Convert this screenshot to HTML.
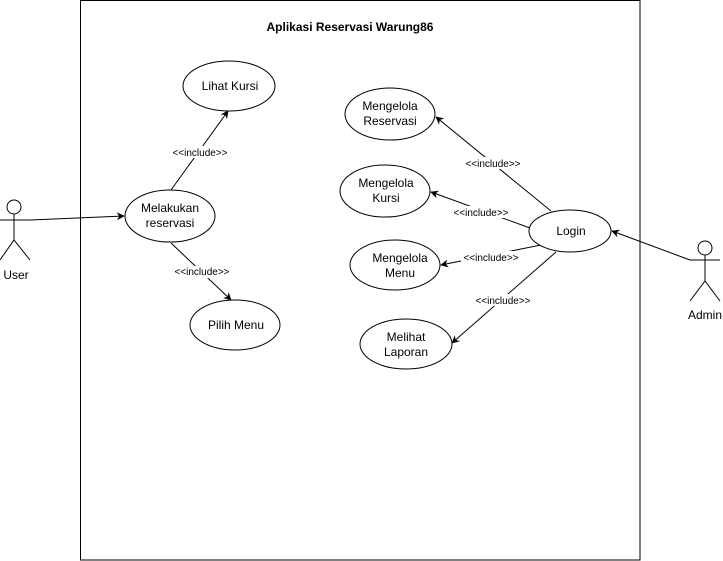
<!DOCTYPE html>
<html><head><meta charset="utf-8"><style>html,body{margin:0;padding:0;background:#fff}svg{display:block}</style></head>
<body>
<svg width="723" height="561" viewBox="0 0 723 561" xmlns="http://www.w3.org/2000/svg" style="font-family:'Liberation Sans', Arial, sans-serif">
<defs><marker id="a" viewBox="0 0 10 10" refX="9" refY="5" markerWidth="8" markerHeight="8" orient="auto" markerUnits="userSpaceOnUse"><path d="M0,0 L10,5 L0,10 L3,5 z" fill="#000"/></marker></defs>
<rect x="80.5" y="0.5" width="559.5" height="559.5" fill="#fff" stroke="#000" stroke-width="1"/>
<text x="350" y="31" text-anchor="middle" font-size="12" font-weight="bold">Aplikasi Reservasi Warung86</text>
<g fill="none" stroke="#000" stroke-width="1">
<line x1="30" y1="220" x2="124" y2="216" marker-end="url(#a)"/>
<line x1="171" y1="190" x2="228" y2="111" marker-end="url(#a)"/>
<line x1="171" y1="243" x2="231" y2="300" marker-end="url(#a)"/>
<line x1="551" y1="211" x2="436" y2="117" marker-end="url(#a)"/>
<line x1="530" y1="228" x2="431" y2="192" marker-end="url(#a)"/>
<line x1="541" y1="245" x2="441" y2="265" marker-end="url(#a)"/>
<line x1="556" y1="252" x2="452" y2="343" marker-end="url(#a)"/>
<line x1="690" y1="260" x2="612" y2="231" marker-end="url(#a)"/>
<circle cx="14" cy="207" r="7"/><line x1="14" y1="214" x2="14" y2="240"/><line x1="0" y1="220" x2="30" y2="220"/><polyline points="0,260 14,240 30,260"/>
<circle cx="705" cy="248" r="7"/><line x1="705" y1="255" x2="705" y2="281"/><line x1="690" y1="260" x2="720" y2="260"/><polyline points="690,301 705,281 720,301"/>
</g>
<g fill="#fff" stroke="#000" stroke-width="1">
<ellipse cx="229" cy="86" rx="46" ry="25"/>
<ellipse cx="170" cy="216" rx="45" ry="26"/>
<ellipse cx="235" cy="325" rx="45" ry="25"/>
<ellipse cx="390" cy="114" rx="45" ry="26"/>
<ellipse cx="385" cy="191" rx="45" ry="26"/>
<ellipse cx="395" cy="265" rx="45" ry="25"/>
<ellipse cx="406" cy="344" rx="46" ry="25"/>
<ellipse cx="570" cy="231" rx="41" ry="21"/>
</g>
<g font-size="12" text-anchor="middle">
<text x="230" y="90">Lihat Kursi</text>
<text x="170" y="212">Melakukan</text><text x="170" y="227">reservasi</text>
<text x="236" y="329">Pilih Menu</text>
<text x="390" y="110">Mengelola</text><text x="390" y="125">Reservasi</text>
<text x="386" y="187">Mengelola</text><text x="386" y="202">Kursi</text>
<text x="400" y="262">Mengelola</text><text x="400" y="277">Menu</text>
<text x="406" y="341">Melihat</text><text x="406" y="356">Laporan</text>
<text x="571" y="235">Login</text>
<text x="16" y="279">User</text>
<text x="722" y="319" text-anchor="end">Admin</text>
</g>
<g font-size="10" text-anchor="middle">
<rect x="170" y="146" width="60" height="12" fill="#fff"/><text x="200" y="156">&lt;&lt;include&gt;&gt;</text>
<rect x="172" y="266" width="60" height="12" fill="#fff"/><text x="202" y="275">&lt;&lt;include&gt;&gt;</text>
<rect x="463" y="157" width="60" height="12" fill="#fff"/><text x="493" y="167">&lt;&lt;include&gt;&gt;</text>
<rect x="451" y="206" width="60" height="12" fill="#fff"/><text x="481" y="216">&lt;&lt;include&gt;&gt;</text>
<rect x="461" y="251" width="60" height="12" fill="#fff"/><text x="491" y="261">&lt;&lt;include&gt;&gt;</text>
<rect x="473" y="294" width="60" height="12" fill="#fff"/><text x="503" y="304">&lt;&lt;include&gt;&gt;</text>
</g>
</svg>
</body></html>
